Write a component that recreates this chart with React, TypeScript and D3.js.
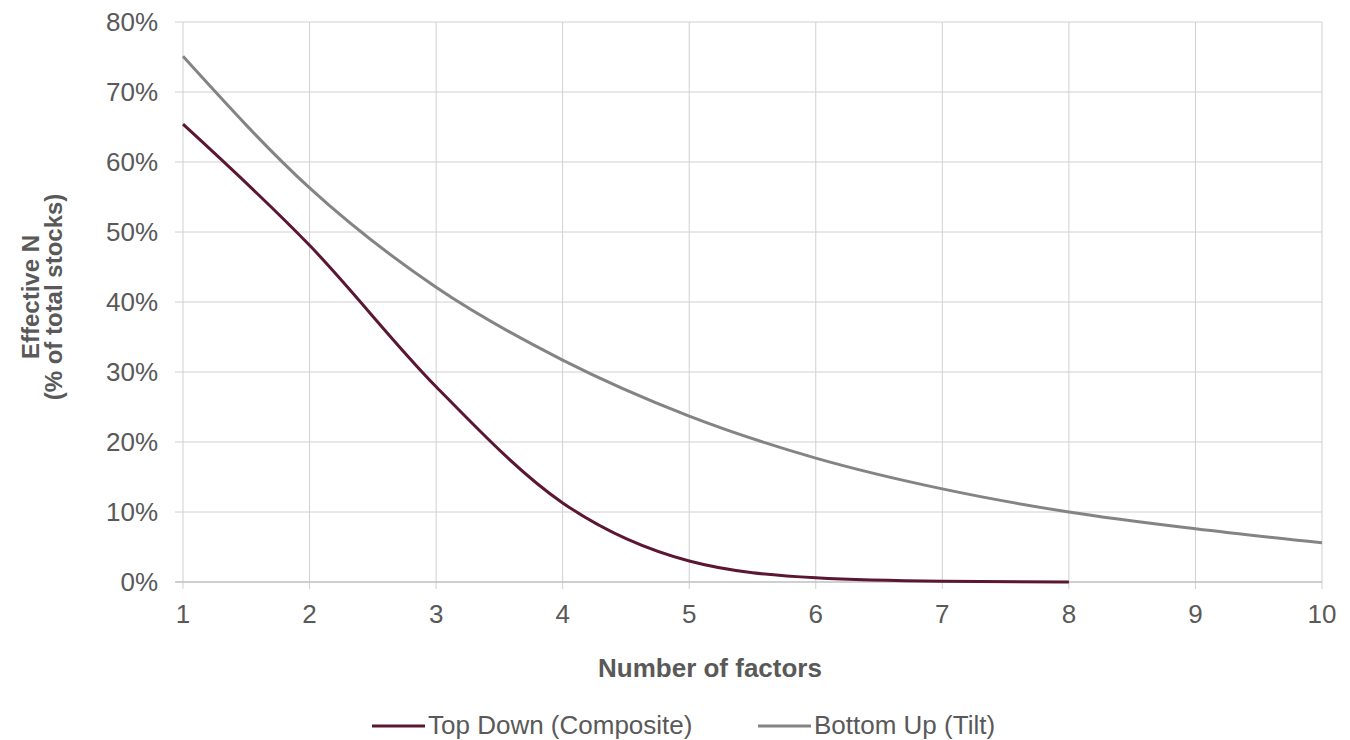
import React from "react";
import * as d3 from "d3";

const factors = [1, 2, 3, 4, 5, 6, 7, 8, 9, 10];
const topDown = [65.4, 48.1, 27.9, 11.3, 3.0, 0.6, 0.1, 0.0];
const bottomUp = [75.1, 56.3, 42.1, 31.7, 23.7, 17.7, 13.3, 10.0, 7.6, 5.6];
const yTicks = [0, 10, 20, 30, 40, 50, 60, 70, 80];
const seriesNames = ["Top Down (Composite)", "Bottom Up (Tilt)"];
const seriesColors = ["#5B1632", "#848484"];

export default function App() {
  const W = 1350, H = 740;
  const x = d3.scaleLinear().domain([1, 10]).range([183, 1322]);
  const y = d3.scaleLinear().domain([0, 80]).range([582, 22]);
  const line = d3
    .line<number>()
    .x((_, i) => x(factors[i]))
    .y((d) => y(d))
    .curve(d3.curveMonotoneX);
  const font = "Liberation Sans, Arial, sans-serif";
  const txt = "#595959";
  return (
    <svg width={W} height={H} style={{ position: "absolute", left: 0, top: 0 }} fontFamily={font}>
      <rect width={W} height={H} fill="#fff" />
      {factors.map((f) => (
        <line key={"vx" + f} x1={x(f)} x2={x(f)} y1={y(80)} y2={y(0) + 7} stroke="#D0D0D0" strokeWidth={1} />
      ))}
      {yTicks.map((t) => (
        <line key={"hy" + t} x1={x(1) - 8} x2={x(10)} y1={y(t)} y2={y(t)} stroke={t === 0 ? "#BFBFBF" : "#D0D0D0"} strokeWidth={t === 0 ? 1.5 : 1} />
      ))}
      {yTicks.map((t) => (
        <text key={"ty" + t} x={158} y={y(t)} dy="0.35em" textAnchor="end" fontSize={26} fill={txt}>
          {t}%
        </text>
      ))}
      {factors.map((f) => (
        <text key={"tx" + f} x={x(f)} y={623} textAnchor="middle" fontSize={26} fill={txt}>
          {f}
        </text>
      ))}
      <path d={line(bottomUp) || ""} fill="none" stroke={seriesColors[1]} strokeWidth={3} />
      <path d={line(topDown) || ""} fill="none" stroke={seriesColors[0]} strokeWidth={3} />
      <text x={710} y={677} textAnchor="middle" fontSize={26} fontWeight="bold" fill={txt}>
        Number of factors
      </text>
      <g transform="translate(0,297) rotate(-90)">
        <text x={0} y={39} textAnchor="middle" fontSize={24} fontWeight="bold" fill={txt}>
          Effective N
        </text>
        <text x={0} y={62} textAnchor="middle" fontSize={24} fontWeight="bold" fill={txt}>
          (% of total stocks)
        </text>
      </g>
      {seriesNames.map((n, i) => {
        const lx = i === 0 ? 372 : 758;
        return (
          <g key={n}>
            <line x1={lx} x2={lx + 53} y1={726} y2={726} stroke={seriesColors[i]} strokeWidth={3} />
            <text x={lx + 56} y={734} fontSize={26} fill={txt}>
              {n}
            </text>
          </g>
        );
      })}
    </svg>
  );
}
